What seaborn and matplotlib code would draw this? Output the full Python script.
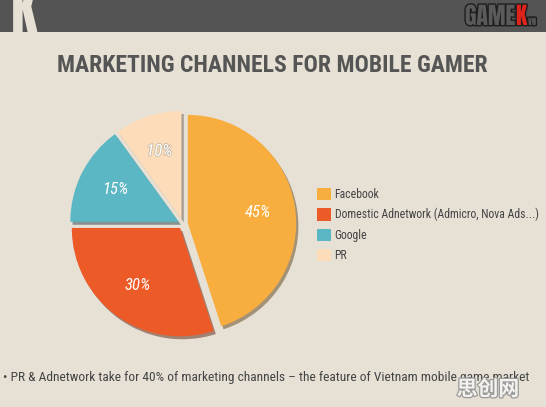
import matplotlib
matplotlib.use("Agg")
import matplotlib.pyplot as plt
import matplotlib.patheffects as pe
from matplotlib.patches import Rectangle
import seaborn as sns

# ---------------- data ----------------
channels = ["Facebook", "Domestic Adnetwork (Admicro, Nova Ads...)", "Google", "PR"]
shares = [45, 30, 15, 10]
slice_colors = ["#f8ad3f", "#ec5a27", "#5bb7c3", "#fddcb9"]
title = "MARKETING CHANNELS FOR MOBILE GAMER"
note = "\u2022 PR & Adnetwork take for 40% of marketing channels \u2013 the feature of Vietnam mobile game market"

BG = "#e6e0d5"
DARK = "#545454"
W, H = 546, 407

sns.set_theme(style="white")
plt.rcParams["font.family"] = ["Roboto Condensed", "DejaVu Sans"]

fig = plt.figure(figsize=(W / 100, H / 100), dpi=100, facecolor=BG)

# top bar with logos
fig.patches.append(Rectangle((0, 1 - 32 / H), 1, 32 / H, transform=fig.transFigure,
                             facecolor=DARK, edgecolor="none", zorder=0))
logo_font = ["Anton", "Oswald", "Roboto Condensed", "DejaVu Sans"]
fig.text(11 / W, 1 - 33 / H, "K", fontsize=40, color=BG,
         ha="left", va="baseline", family=logo_font)
stroke = [pe.withStroke(linewidth=2, foreground="#1e1e1e")]
fig.text(465 / W, 1 - 25 / H, "GAME", fontsize=17, color="#5a5a5a",
         ha="left", va="baseline", family=logo_font, path_effects=stroke)
fig.text(516 / W, 1 - 25 / H, "K", fontsize=17, color="#e2231a",
         ha="left", va="baseline", family=logo_font, path_effects=stroke)
fig.text(528 / W, 1 - 25 / H, "VN", fontsize=6, color="#5a5a5a",
         ha="left", va="baseline", family=logo_font, path_effects=stroke)

# title
fig.text(272 / W, 1 - 65 / H, title, fontsize=17, fontweight="bold", color="#555555",
         ha="center", va="center")

# pie
cx, cy, half = 183, 224, 130
ax = fig.add_axes([(cx - half) / W, 1 - (cy + half) / H, 2 * half / W, 2 * half / H])
ax.set_facecolor("none")
wedges, texts, autotexts = ax.pie(
    shares, colors=slice_colors, startangle=90, counterclock=False,
    explode=[0.045] * len(shares), autopct="%d%%", pctdistance=0.66,
    shadow={"ox": 0.015, "oy": -0.02, "shade": 0.6},
    wedgeprops={"linewidth": 0}, radius=1.0,
    textprops={"color": "white", "fontsize": 12, "fontstyle": "italic"})
autotexts[-1].set_path_effects([pe.withStroke(linewidth=1.2, foreground="#c9b9a5")])
ax.set_xlim(-1.2, 1.2)
ax.set_ylim(-1.2, 1.2)
ax.set_aspect("equal")
ax.axis("off")

# legend
fig.legend(wedges, channels, loc="upper left", bbox_to_anchor=(311 / W, 1 - 182 / H),
           frameon=False, fontsize=8.5, handlelength=1.2, handleheight=1.2,
           handletextpad=0.3, labelspacing=0.6, borderpad=0, labelcolor="#444444")

# bottom note
fig.text(3 / W, 1 - 381 / H, note, fontsize=9.6, color="#444444", ha="left", va="baseline")

# watermark
fig.text(488 / W, 1 - 389 / H, "思创网", fontsize=15, fontweight="bold", color="#f4f2ee",
         ha="center", va="center", family=["Noto Sans CJK SC", "DejaVu Sans"],
         path_effects=[pe.withStroke(linewidth=1.8, foreground="#9a9a9a")])

fig.savefig("out.png", dpi=100, facecolor=BG)
